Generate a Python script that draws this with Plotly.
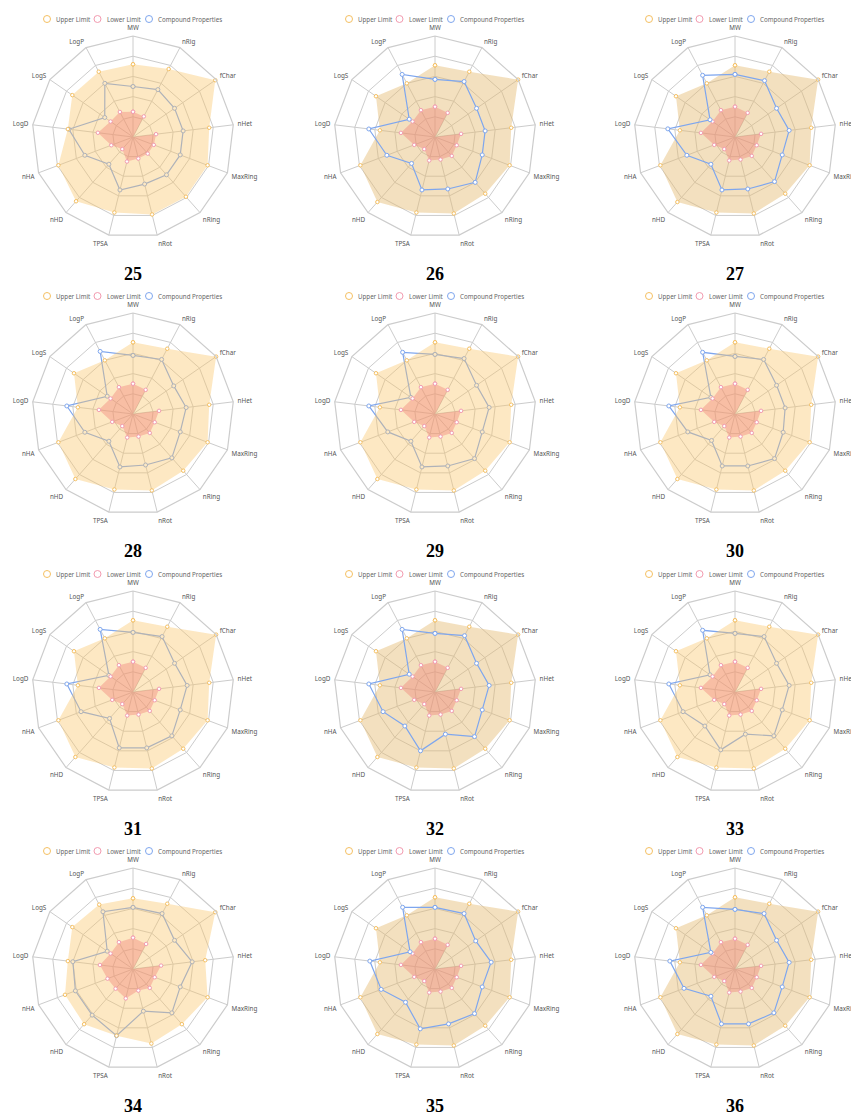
import plotly.graph_objects as go

categories = ["MW", "nRig", "fChar", "nHet", "MaxRing", "nRing", "nRot",
              "TPSA", "nHD", "nHA", "LogD", "LogS", "LogP"]

chart_labels = ["25", "26", "27", "28", "29", "30", "31", "32", "33", "34", "35", "36"]
series_names = ["Upper Limit", "Lower Limit", "Compound Properties"]

# Normalised radar values (fraction of outer ring)
upper_std = [0.71, 0.73, 1.00, 0.76, 0.79, 0.75, 0.78, 0.77, 0.86, 0.79, 0.55, 0.71, 0.60]
lower_std = [0.30, 0.27, 0.00, 0.26, 0.23, 0.25, 0.23, 0.24, 0.16, 0.22, 0.34, 0.27, 0.30]
upper_25 = [0.72, 0.76, 0.99, 0.76, 0.79, 0.79, 0.79, 0.77, 0.85, 0.79, 0.65, 0.73, 0.73]
lower_25 = [0.25, 0.23, 0.00, 0.23, 0.22, 0.22, 0.22, 0.25, 0.16, 0.23, 0.35, 0.27, 0.28]
upper_34 = [0.70, 0.73, 0.99, 0.72, 0.79, 0.73, 0.76, 0.68, 0.73, 0.72, 0.65, 0.73, 0.72]
lower_34 = [0.31, 0.28, 0.00, 0.28, 0.23, 0.25, 0.22, 0.30, 0.26, 0.27, 0.33, 0.27, 0.30]

compound_25 = [0.50, 0.53, 0.50, 0.50, 0.50, 0.50, 0.48, 0.54, 0.36, 0.51, 0.64, 0.34, 0.60]
compound_26 = [0.57, 0.62, 0.50, 0.50, 0.50, 0.60, 0.53, 0.54, 0.35, 0.51, 0.66, 0.31, 0.70]
compound_27 = [0.62, 0.63, 0.50, 0.54, 0.50, 0.59, 0.53, 0.54, 0.36, 0.51, 0.67, 0.30, 0.69]
compound_28 = [0.58, 0.61, 0.49, 0.53, 0.50, 0.58, 0.52, 0.54, 0.36, 0.51, 0.66, 0.31, 0.70]
compound_29 = [0.59, 0.62, 0.50, 0.54, 0.50, 0.59, 0.53, 0.54, 0.36, 0.50, 0.66, 0.29, 0.69]
compound_30 = [0.57, 0.61, 0.50, 0.50, 0.51, 0.59, 0.53, 0.53, 0.35, 0.50, 0.66, 0.29, 0.69]
compound_31 = [0.59, 0.62, 0.50, 0.54, 0.50, 0.58, 0.57, 0.57, 0.35, 0.55, 0.66, 0.29, 0.70]
compound_32 = [0.58, 0.63, 0.50, 0.54, 0.50, 0.59, 0.43, 0.60, 0.45, 0.55, 0.66, 0.31, 0.70]
compound_33 = [0.58, 0.62, 0.50, 0.54, 0.50, 0.58, 0.43, 0.59, 0.45, 0.55, 0.66, 0.30, 0.69]
compound_34 = [0.61, 0.62, 0.50, 0.59, 0.50, 0.58, 0.43, 0.68, 0.61, 0.61, 0.60, 0.31, 0.64]
compound_35 = [0.61, 0.62, 0.49, 0.56, 0.50, 0.59, 0.56, 0.61, 0.44, 0.57, 0.65, 0.30, 0.69]
compound_36 = [0.59, 0.62, 0.50, 0.54, 0.50, 0.58, 0.56, 0.56, 0.36, 0.54, 0.65, 0.29, 0.69]

compounds = [compound_25, compound_26, compound_27, compound_28, compound_29, compound_30,
             compound_31, compound_32, compound_33, compound_34, compound_35, compound_36]
uppers = [upper_25] + [upper_std] * 8 + [upper_34] + [upper_std] * 2
lowers = [lower_25] + [lower_std] * 8 + [lower_34] + [lower_std] * 2
# charts where the compound line sits on top of the filled limits
vivid = {"26", "27", "32", "35", "36"}

OFF = 8                      # page body margin
W, H = 859 - OFF, 1119 - OFF
RAD = 101
col_cx = [133, 435, 735]
row_cy = [137, 414, 692, 969]


def xp(x):
    return (x - OFF) / W


def yp(y):
    return 1 - (y - OFF) / H


ORANGE = "#f5c062"
PINK = "#f29bb0"
BLUE = "#7ea6ee"
series_colors = [ORANGE, PINK, BLUE]
# legend icon / text offsets from chart centre (px)
legend_icon_dx = [-86, -35.5, 16]
legend_text_dx = [-79, -28, 23]

fig = go.Figure()
layout_extra = {}
annotations = []
shapes = []


def closed(vals):
    return list(vals) + [vals[0]]


theta_closed = categories + [categories[0]]

for i, lab in enumerate(chart_labels):
    r_i, c_i = divmod(i, 3)
    cx, cy = col_cx[c_i], row_cy[r_i]
    pname = "polar" if i == 0 else f"polar{i + 1}"
    is_vivid = lab in vivid
    up_fill = "rgba(228,186,112,0.45)" if is_vivid else "rgba(250,198,105,0.40)"
    low_fill = "rgba(240,120,112,0.38)"

    comp_trace = go.Scatterpolar(
        r=closed(compounds[i]), theta=theta_closed, mode="lines+markers",
        name=series_names[2],
        line=dict(color=BLUE, width=1.2),
        marker=dict(symbol="circle", size=4, color="white", line=dict(color=BLUE, width=1)),
        subplot=pname, showlegend=False, hoverinfo="skip")
    up_trace = go.Scatterpolar(
        r=closed(uppers[i]), theta=theta_closed, mode="lines+markers", fill="toself",
        name=series_names[0],
        fillcolor=up_fill, line=dict(color="rgba(0,0,0,0)", width=0),
        marker=dict(symbol="circle", size=3.5, color="white", line=dict(color=ORANGE, width=1)),
        subplot=pname, showlegend=False, hoverinfo="skip")
    low_trace = go.Scatterpolar(
        r=closed(lowers[i]), theta=theta_closed, mode="lines+markers", fill="toself",
        name=series_names[1],
        fillcolor=low_fill, line=dict(color="rgba(0,0,0,0)", width=0),
        marker=dict(symbol="circle", size=3.5, color="white", line=dict(color=PINK, width=1)),
        subplot=pname, showlegend=False, hoverinfo="skip")

    if is_vivid:
        fig.add_traces([up_trace, low_trace, comp_trace])
    else:
        fig.add_traces([comp_trace, up_trace, low_trace])

    layout_extra[pname] = dict(
        domain=dict(x=[xp(cx - RAD), xp(cx + RAD)],
                    y=[yp(cy + RAD), yp(cy - RAD)]),
        gridshape="linear", bgcolor="white",
        radialaxis=dict(range=[0, 1], tickvals=[0.2, 0.4, 0.6, 0.8, 1.0],
                        showticklabels=False, ticks="", showline=False,
                        gridcolor="#cccccc", gridwidth=1),
        angularaxis=dict(direction="clockwise", rotation=90, categoryorder="array",
                         categoryarray=categories, ticks="outside", ticklen=2.5,
                         tickcolor="rgba(0,0,0,0)", showline=True,
                         linecolor="#cccccc", linewidth=1.2, gridcolor="#cccccc",
                         tickfont=dict(family="Noto Sans", size=6.3, color="#555555")),
    )

    # per-chart legend row
    ly = cy - 118
    for k in range(3):
        shapes.append(dict(
            type="circle", xref="paper", yref="paper", xsizemode="pixel", ysizemode="pixel",
            xanchor=xp(cx + legend_icon_dx[k]), yanchor=yp(ly),
            x0=-3.5, x1=3.5, y0=-3.5, y1=3.5,
            line=dict(color=series_colors[k], width=1), fillcolor="rgba(0,0,0,0)"))
        annotations.append(dict(
            text=series_names[k], x=xp(cx + legend_text_dx[k]), y=yp(ly),
            xref="paper", yref="paper", xanchor="left", yanchor="middle", showarrow=False,
            font=dict(family="Noto Sans", size=6.2, color="#666666")))

    annotations.append(dict(
        text=f"<b>{lab}</b>", x=xp(cx), y=yp(cy + 137), xref="paper", yref="paper",
        xanchor="center", yanchor="middle", showarrow=False,
        font=dict(family="Liberation Serif", size=18, color="black")))

fig.update_layout(
    width=W, height=H, margin=dict(l=0, r=0, t=0, b=0, autoexpand=False),
    paper_bgcolor="white", plot_bgcolor="white", showlegend=False,
    annotations=annotations, shapes=shapes,
    **layout_extra)

fig.write_html("out.html")
